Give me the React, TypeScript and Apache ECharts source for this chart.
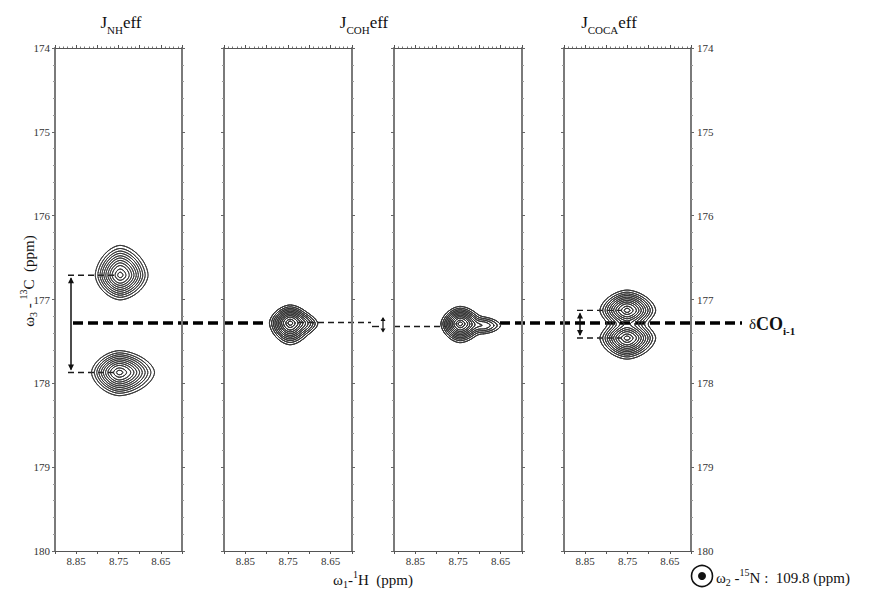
import React, { useEffect, useRef } from "react";
import * as echarts from "echarts";

const SERIF = "Liberation Serif";

// ---- axis ranges / ticks ----
const protonMin = 8.6;
const protonMax = 8.9;
const protonStep = 0.05;
const protonLabels = [8.85, 8.75, 8.65];
const carbonMin = 174;
const carbonMax = 180;
const carbonStep = 1;

// ---- panel layout ----
const panelLeft = [55, 224, 394, 564];
const panelWidth = [127, 128, 128, 127];
const panelTop = 48;
const panelHeight = 503;

// ---- titles ----
const titleSubs = ["NH", "COH", "COCA"];
const titleCenterX = [121, 364, 609];

// ---- peaks (panel, 1H ppm, 13C ppm, amplitude, widths left/right/up/down in ppm) ----
const peakPanel = [0, 0, 1, 1, 2, 2, 3, 3];
const peakH = [8.746, 8.748, 8.745, 8.705, 8.745, 8.688, 8.751, 8.751];
const peakC = [176.71, 177.87, 177.28, 177.29, 177.29, 177.31, 177.13, 177.46];
const peakAmp = [1, 1, 1, 0.14, 1, 0.24, 1, 1];
const peakWL = [0.034, 0.038, 0.028, 0.02, 0.026, 0.026, 0.037, 0.037];
const peakWR = [0.038, 0.048, 0.03, 0.022, 0.03, 0.03, 0.039, 0.039];
const peakWU = [0.205, 0.15, 0.124, 0.08, 0.12, 0.075, 0.14, 0.13];
const peakWD = [0.17, 0.16, 0.15, 0.08, 0.13, 0.075, 0.13, 0.145];
const contourLevels = [0.05, 0.09, 0.14, 0.2, 0.28, 0.37, 0.48, 0.6, 0.73, 0.88, 0.97];
const shapeExponent = 1.7;

// reference shift δCO(i-1)
const refShift = 177.28;
const refShiftLow = 177.31;
// peaks joined by split arrows
const splitPairs = [
  [0, 1],
  [6, 7],
];
const splitArrowOffset = [16, 16];

const SEG: number[][] = [
  [], [3, 0], [0, 1], [3, 1], [1, 2], [3, 0, 1, 2], [0, 2], [3, 2],
  [2, 3], [0, 2], [0, 1, 2, 3], [1, 2], [1, 3], [0, 1], [0, 3], [],
];

function fieldAt(ids: number[], x: number, y: number): number {
  let s = 0;
  for (const i of ids) {
    const u = (x - peakH[i]) / (x > peakH[i] ? peakWL[i] : peakWR[i]);
    const v = (y - peakC[i]) / (y < peakC[i] ? peakWU[i] : peakWD[i]);
    const n = Math.pow(Math.pow(Math.abs(u), shapeExponent) + Math.pow(Math.abs(v), shapeExponent), 1 / shapeExponent);
    s += peakAmp[i] * Math.exp(-n * n);
  }
  return s;
}

function contourPath(panel: number, api: any): string {
  const ids: number[] = [];
  peakPanel.forEach((p, i) => {
    if (p === panel) ids.push(i);
  });
  let x0 = Infinity, x1 = -Infinity, y0 = Infinity, y1 = -Infinity;
  for (const i of ids) {
    x0 = Math.min(x0, peakH[i] - 2.6 * peakWR[i]);
    x1 = Math.max(x1, peakH[i] + 2.6 * peakWL[i]);
    y0 = Math.min(y0, peakC[i] - 2.6 * peakWU[i]);
    y1 = Math.max(y1, peakC[i] + 2.6 * peakWD[i]);
  }
  const nx = 170, ny = 170;
  const dx = (x1 - x0) / nx, dy = (y1 - y0) / ny;
  const W = nx + 1;
  const f = new Float64Array((nx + 1) * (ny + 1));
  for (let j = 0; j <= ny; j++) {
    for (let i = 0; i <= nx; i++) {
      f[j * W + i] = fieldAt(ids, x0 + i * dx, y0 + j * dy);
    }
  }
  const a = api.coord([protonMin, carbonMin]);
  const b = api.coord([protonMax, carbonMax]);
  const sx = (b[0] - a[0]) / (protonMax - protonMin);
  const sy = (b[1] - a[1]) / (carbonMax - carbonMin);
  const PX = (x: number) => (a[0] + (x - protonMin) * sx).toFixed(2);
  const PY = (y: number) => (a[1] + (y - carbonMin) * sy).toFixed(2);
  const parts: string[] = [];
  for (const L of contourLevels) {
    for (let j = 0; j < ny; j++) {
      for (let i = 0; i < nx; i++) {
        const v0 = f[j * W + i], v1 = f[j * W + i + 1], v2 = f[(j + 1) * W + i + 1], v3 = f[(j + 1) * W + i];
        const c = (v0 > L ? 1 : 0) | (v1 > L ? 2 : 0) | (v2 > L ? 4 : 0) | (v3 > L ? 8 : 0);
        if (c === 0 || c === 15) continue;
        const xi = x0 + i * dx, yj = y0 + j * dy;
        const ep = (k: number): [number, number] => {
          if (k === 0) return [xi + ((L - v0) / (v1 - v0)) * dx, yj];
          if (k === 1) return [xi + dx, yj + ((L - v1) / (v2 - v1)) * dy];
          if (k === 2) return [xi + ((L - v3) / (v2 - v3)) * dx, yj + dy];
          return [xi, yj + ((L - v0) / (v3 - v0)) * dy];
        };
        const seg = SEG[c];
        for (let s = 0; s < seg.length; s += 2) {
          const p = ep(seg[s]);
          const q = ep(seg[s + 1]);
          parts.push("M" + PX(p[0]) + " " + PY(p[1]) + "L" + PX(q[0]) + " " + PY(q[1]));
        }
      }
    }
  }
  return parts.join("");
}

const isLabelled = (v: number) => protonLabels.some((t) => Math.abs(t - v) < 1e-6);

function buildOption(): any {
  const grid: any[] = [];
  const xAxis: any[] = [];
  const yAxis: any[] = [];
  const series: any[] = [];
  for (let p = 0; p < 4; p++) {
    grid.push({ left: panelLeft[p], top: panelTop, width: panelWidth[p], height: panelHeight, show: false });
    const xBase = {
      type: "value",
      gridIndex: p,
      min: protonMin,
      max: protonMax,
      interval: protonStep,
      inverse: true,
      splitLine: { show: false },
      axisLine: { show: true, onZero: false, lineStyle: { color: "#555", width: 1.2 } },
      axisTick: { show: true, length: 3, lineStyle: { color: "#555", width: 1 } },
    };
    xAxis.push({
      ...xBase,
      position: "bottom",
      minorTick: { show: false },
      axisLabel: {
        show: true,
        margin: 4,
        fontFamily: SERIF,
        fontSize: 11,
        color: "#333",
        formatter: (v: number) => (isLabelled(v) ? v.toFixed(2) : ""),
      },
    });
    xAxis.push({
      ...xBase,
      position: "top",
      axisLabel: { show: false },
      minorTick: { show: true, splitNumber: 5, length: 1.5, lineStyle: { color: "#777" } },
    });
    const yBase = {
      type: "value",
      gridIndex: p,
      min: carbonMin,
      max: carbonMax,
      interval: carbonStep,
      inverse: true,
      splitLine: { show: false },
      axisLine: { show: true, onZero: false, lineStyle: { color: "#7a7a7a", width: 2 } },
      axisTick: { show: true, length: 3, lineStyle: { color: "#666", width: 1 } },
      minorTick: { show: true, splitNumber: 5, length: 2, lineStyle: { color: "#999" } },
    };
    yAxis.push({
      ...yBase,
      position: "left",
      axisLabel: { show: p === 0, margin: 5, fontFamily: SERIF, fontSize: 11, color: "#333" },
    });
    yAxis.push({
      ...yBase,
      position: "right",
      axisLabel: { show: p === 3, margin: 6, fontFamily: SERIF, fontSize: 11, color: "#333" },
    });
    series.push({
      type: "custom",
      xAxisIndex: 2 * p,
      yAxisIndex: 2 * p,
      data: [[protonMin, carbonMin]],
      silent: true,
      clip: false,
      z: 3,
      renderItem: (_params: any, api: any) => ({
        type: "path",
        shape: { pathData: contourPath(p, api) },
        style: { fill: "none", stroke: "#333", lineWidth: 0.85, lineCap: "round" },
      }),
    });
  }
  return { animation: false, backgroundColor: "#fff", grid, xAxis, yAxis, series };
}

const richBase = (size: number) => {
  const sm = Math.round(size * 0.68);
  return {
    m: { fontFamily: SERIF, fontSize: size, lineHeight: size, verticalAlign: "top", padding: [3, 0, 0, 0], color: "#111" },
    s: { fontFamily: SERIF, fontSize: sm, lineHeight: sm, verticalAlign: "top", padding: [size * 0.68, 0, 0, 0], color: "#111" },
    p: { fontFamily: SERIF, fontSize: sm, lineHeight: sm, verticalAlign: "top", padding: [0, 0, 0, 0], color: "#111" },
    b: { fontFamily: SERIF, fontSize: size + 3, fontWeight: "bold", lineHeight: size + 3, verticalAlign: "top", padding: [1, 0, 0, 0], color: "#111" },
    bs: { fontFamily: SERIF, fontSize: sm + 1, fontWeight: "bold", lineHeight: sm + 1, verticalAlign: "top", padding: [size * 0.78, 0, 0, 0], color: "#111" },
    t: { fontFamily: SERIF, fontSize: 17, lineHeight: 17, verticalAlign: "top", color: "#111" },
    u: { fontFamily: SERIF, fontSize: 11, lineHeight: 11, verticalAlign: "top", padding: [10, 0, 0, 0], color: "#111" },
  };
};

function textEl(x: number, y: number, text: string, size: number, align: string, vAlign: string, extra: any = {}) {
  return {
    type: "text",
    x,
    y,
    silent: true,
    ...extra,
    style: {
      x: 0,
      y: 0,
      text,
      rich: richBase(size),
      align,
      textAlign: align,
      verticalAlign: vAlign,
      textVerticalAlign: vAlign,
      fontFamily: SERIF,
      fontSize: size,
      fill: "#111",
    },
  };
}

function dblArrow(x: number, yTop: number, yBot: number, head: number, half: number, lw: number) {
  return [
    { type: "line", silent: true, shape: { x1: x, y1: yTop + 1, x2: x, y2: yBot - 1 }, style: { stroke: "#111", lineWidth: lw } },
    {
      type: "polygon",
      silent: true,
      shape: { points: [[x - half, yTop + head], [x + half, yTop + head], [x, yTop]] },
      style: { fill: "#111" },
    },
    {
      type: "polygon",
      silent: true,
      shape: { points: [[x - half, yBot - head], [x + half, yBot - head], [x, yBot]] },
      style: { fill: "#111" },
    },
  ];
}

export default function App() {
  const ref = useRef<HTMLDivElement>(null);
  useEffect(() => {
    const chart = echarts.init(ref.current!, null, { renderer: "svg" });
    chart.setOption(buildOption());
    const cp = (g: number, x: number, y: number) => chart.convertToPixel({ gridIndex: g } as any, [x, y]) as number[];
    const yRef = cp(0, 8.75, refShift)[1];
    const yRefLow = cp(0, 8.75, refShiftLow)[1];
    const thick = { stroke: "#000", lineWidth: 3.6, lineDash: [10, 5] };
    const thin = { stroke: "#1a1a1a", lineWidth: 1.4, lineDash: [6, 4] };
    const els: any[] = [];
    const line = (x1: number, y1: number, x2: number, y2: number, style: any) => ({
      type: "line",
      silent: true,
      shape: { x1, y1, x2, y2 },
      style,
    });
    // δCO(i-1) reference line
    els.push(line(73, yRef, 268, yRef, thick));
    els.push(line(298, yRef - 0.5, 371, yRef - 0.5, thin));
    els.push(line(372, yRefLow + 1, 379, yRefLow + 1, { stroke: "#1a1a1a", lineWidth: 1.4 }));
    els.push(line(394, yRefLow + 1, 446, yRefLow + 1, thin));
    els.push(line(500, yRef, 742, yRef, thick));
    els.push(...dblArrow(383, yRef - 6, yRefLow + 7, 4, 2.5, 1.2));
    // split guides
    splitPairs.forEach((pair, k) => {
      const g = peakPanel[pair[0]];
      const xStart = panelLeft[g] + splitArrowOffset[k] - 3;
      const pts = pair.map((i) => cp(g, peakH[i], peakC[i]));
      pts.forEach((pt) => els.push(line(xStart, pt[1], pt[0] - 6, pt[1], thin)));
      els.push(...dblArrow(xStart + 3, pts[0][1] + 2, pts[1][1] - 2, 6, 3, 1.5));
    });
    // titles
    titleSubs.forEach((s, k) => {
      els.push(textEl(titleCenterX[k], 14, `{t|J}{u|${s}}{t|eff}`, 17, "center", "top"));
    });
    // axis titles
    els.push(textEl(373, 577, "{m|ω}{s|1}{m|-}{p|1}{m|H  (ppm)}", 15, "center", "middle"));
    els.push(
      textEl(26, 281, "{m|ω}{s|3}{m| - }{p|13}{m|C  (ppm)}", 15, "center", "middle", { rotation: Math.PI / 2 })
    );
    // 15N plane label
    els.push({ type: "circle", silent: true, shape: { cx: 702, cy: 576, r: 10.5 }, style: { fill: "none", stroke: "#111", lineWidth: 1.6 } });
    els.push({ type: "circle", silent: true, shape: { cx: 702, cy: 576, r: 4 }, style: { fill: "#111" } });
    els.push(textEl(716, 575, "{m|ω}{s|2}{m| -}{p|15}{m|N :  109.8 (ppm)}", 15, "left", "middle"));
    // δCO label
    els.push(textEl(749, yRef, "{m|δ}{b|CO}{bs|i-1}", 15, "left", "middle"));
    chart.setOption({ graphic: { elements: els } });
    return () => chart.dispose();
  }, []);
  return <div ref={ref} style={{ position: "fixed", left: 0, top: 0, width: 872, height: 590, background: "#fff" }} />;
}
